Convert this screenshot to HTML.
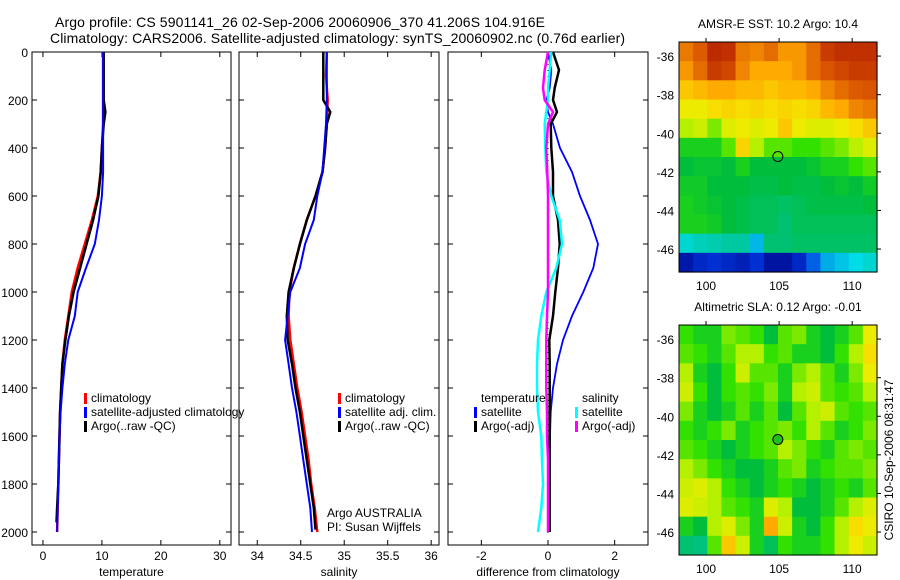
<!DOCTYPE html>
<html><head><meta charset="utf-8"><style>
html,body{margin:0;padding:0;background:#fff;}
svg{display:block;font-family:"Liberation Sans",sans-serif;}
text{fill:#000;}
</style></head><body>
<svg id="fig" width="900" height="580" viewBox="0 0 900 580" xmlns="http://www.w3.org/2000/svg">
<text x="55" y="27" font-size="14" textLength="490">Argo profile: CS 5901141_26 02-Sep-2006 20060906_370 41.206S 104.916E</text>
<text x="50" y="43" font-size="14" textLength="575">Climatology: CARS2006. Satellite-adjusted climatology: synTS_20060902.nc (0.76d earlier)</text>
<g id="g"></g>
</svg>
<script>
// ---------- data ----------
const depthTicks=[0,200,400,600,800,1000,1200,1400,1600,1800,2000];
const tempTicks=[0,10,20,30];
const salTicks=[34,34.5,35,35.5,36];
const salTickLabels=["34","34.5","35","35.5","36"];
const diffTicks=[-2,0,2];
const lonTicks=[100,105,110];
const latTicks=[-36,-38,-40,-42,-44,-46];

const tDepth=[0,100,200,300,400,500,600,700,800,900,1000,1100,1200,1300,1400,1500,1600,1700,1800,1900,2000];
const tClim=[10.2,10.2,10.2,10.2,10.0,9.8,9.3,8.3,7.1,5.9,4.9,4.3,3.7,3.3,3.1,2.9,2.8,2.7,2.6,2.5,2.4];
const tSat=[10.2,10.2,10.2,10.2,10.2,10.2,10.0,9.5,8.8,7.3,5.9,5.4,4.3,3.7,3.3,3.0,2.8,2.7,2.6,2.5,2.4];
const tArgoDepth=[0,100,200,250,300,400,500,600,700,800,900,1000,1100,1200,1300,1400,1500,1600,1700,1800,1900,1960];
const tArgo=[10.3,10.3,10.3,10.6,10.3,10.0,9.8,9.4,8.5,7.4,6.3,5.2,4.4,3.8,3.3,3.1,2.9,2.8,2.7,2.6,2.4,2.3];

const sDepth=[0,100,200,300,400,500,600,700,800,900,1000,1100,1200,1300,1400,1500,1600,1700,1800,1900,2000];
const sClim=[34.80,34.79,34.81,34.80,34.78,34.75,34.67,34.57,34.49,34.42,34.37,34.36,34.38,34.42,34.46,34.51,34.55,34.59,34.62,34.66,34.69];
const sSat=[34.80,34.80,34.80,34.79,34.77,34.75,34.69,34.65,34.55,34.49,34.38,34.35,34.32,34.36,34.40,34.45,34.49,34.53,34.57,34.61,34.63];
const sArgoDepth=[0,100,200,250,300,400,500,600,700,800,900,1000,1100,1200,1300,1400,1500,1600,1700,1800,1900,1990];
const sArgo=[34.76,34.76,34.76,34.84,34.80,34.78,34.75,34.67,34.57,34.49,34.42,34.36,34.34,34.35,34.40,34.44,34.49,34.53,34.57,34.61,34.65,34.67];

const dDepth=[0,75,150,200,250,300,400,500,600,700,800,900,1000,1100,1200,1300,1400,1500,1600,1700,1800,1900,2000];
const dTempSat=[0.0,0.1,0.05,-0.05,0.0,0.15,0.36,0.72,0.96,1.26,1.5,1.36,1.06,0.72,0.45,0.27,0.15,0.08,0.06,0.06,0.05,0.05,0.05];
const dTempArgo=[0.15,0.33,0.2,0.15,0.27,0.08,0.1,0.15,0.15,0.3,0.35,0.3,0.22,0.15,0.04,0.05,0.05,0.05,0.05,0.05,0.05,0.05,0.05];
const dSalSat=[0.1,0.05,0.0,0.0,-0.05,-0.1,-0.08,-0.05,0.1,0.35,0.42,0.25,-0.05,-0.2,-0.3,-0.33,-0.33,-0.3,-0.2,-0.18,-0.15,-0.2,-0.3];
const dSalArgo=[0.0,-0.1,-0.15,-0.1,0.15,0.0,-0.05,-0.02,0.0,0.0,0.0,0.0,0.0,-0.03,-0.05,-0.05,-0.05,-0.03,-0.03,0.0,0.0,0.0,0.0];

const sstGrid=[
[.80,.85,.93,.92,.80,.78,.82,.75,.75,.82,.90,.92,.92,.92],
[.75,.82,.90,.88,.78,.72,.72,.72,.75,.82,.86,.88,.90,.90],
[.68,.70,.72,.72,.70,.70,.68,.70,.70,.72,.78,.82,.85,.86],
[.62,.62,.65,.66,.65,.66,.65,.66,.65,.66,.70,.72,.78,.80],
[.55,.58,.52,.60,.62,.60,.62,.68,.62,.60,.60,.62,.65,.68],
[.45,.45,.45,.50,.66,.55,.50,.50,.48,.48,.50,.52,.56,.60],
[.42,.43,.43,.42,.45,.42,.42,.42,.42,.43,.45,.45,.48,.50],
[.44,.44,.42,.42,.42,.41,.41,.42,.41,.41,.42,.43,.42,.44],
[.45,.44,.43,.42,.41,.40,.40,.39,.40,.41,.41,.41,.41,.42],
[.45,.45,.44,.42,.41,.40,.40,.38,.40,.40,.40,.40,.40,.40],
[.30,.32,.33,.34,.34,.25,.38,.38,.39,.39,.39,.39,.39,.39],
[.06,.10,.12,.10,.08,.12,.05,.05,.10,.18,.24,.26,.28,.30]];
const slaGrid=[
[.48,.45,.45,.52,.50,.48,.42,.50,.52,.45,.42,.45,.50,.62],
[.50,.48,.45,.50,.55,.55,.48,.50,.45,.45,.42,.48,.55,.65],
[.55,.45,.42,.48,.58,.50,.50,.45,.52,.55,.50,.45,.52,.62],
[.58,.48,.42,.48,.50,.48,.52,.45,.55,.58,.50,.48,.50,.55],
[.52,.45,.42,.45,.50,.45,.50,.42,.50,.55,.58,.50,.48,.50],
[.48,.45,.48,.52,.45,.48,.50,.52,.48,.55,.50,.45,.48,.52],
[.50,.48,.45,.42,.45,.48,.50,.55,.52,.48,.45,.50,.52,.50],
[.55,.52,.48,.45,.42,.42,.45,.50,.52,.45,.48,.50,.50,.52],
[.58,.60,.55,.48,.45,.42,.45,.48,.45,.42,.45,.48,.45,.50],
[.60,.58,.55,.50,.48,.45,.60,.55,.42,.42,.45,.50,.55,.60],
[.45,.42,.55,.60,.52,.45,.72,.58,.45,.42,.48,.55,.65,.62],
[.38,.37,.50,.68,.58,.45,.40,.48,.45,.45,.48,.55,.62,.58]];
const argoLon=[104.916];
const argoLat=[-41.206];

// ---------- drawing ----------
const NS="http://www.w3.org/2000/svg";
const G=document.getElementById('g');
function mk(tag,attrs,parent){const e=document.createElementNS(NS,tag);for(const k in attrs)e.setAttribute(k,attrs[k]);(parent||G).appendChild(e);return e;}
const Y0=52,Y1=545;
function yD(d){return 52+d*0.24;}

function profilePanel(name,x0,x1,vmin,vmax,ticks,labels,xlabel){
  const sx=v=>x0+(v-vmin)/(vmax-vmin)*(x1-x0);
  const g=mk('g',{});
  
  
  const r=mk('rect',{x:x0,y:Y0,width:x1-x0,height:Y1-Y0,fill:'none',stroke:'#000','stroke-width':1},g);
  
  
  ticks.forEach((t,i)=>{
    const x=sx(t);
    mk('line',{x1:x,x2:x,y1:Y1,y2:Y1-5,stroke:'#000'},g);
    mk('line',{x1:x,x2:x,y1:Y0,y2:Y0+5,stroke:'#000'},g);
    const tx=mk('text',{x:x,y:Y1+15,'font-size':12,'text-anchor':'middle'},g);
    tx.textContent=labels[i];
    
    
  });
  depthTicks.forEach(d=>{
    const y=yD(d);
    mk('line',{x1:x0,x2:x0+5,y1:y,y2:y,stroke:'#000'},g);
    mk('line',{x1:x1,x2:x1-5,y1:y,y2:y,stroke:'#000'},g);
  });
  const xl=mk('text',{x:(x0+x1)/2,y:576,'font-size':12,'text-anchor':'middle'},g);
  xl.textContent=xlabel;
  
  
  return {g,sx};
}
function series(p,name,depths,vals,color,w){
  const pts=depths.map((d,i)=>p.sx(vals[i]).toFixed(1)+','+yD(d).toFixed(1)).join(' ');
  const l=mk('polyline',{points:pts,fill:'none',stroke:color,'stroke-width':w},p.g);
  
  
}
function legend(g,x,y,color,label,nm){
  if(color){const m=mk('rect',{x:x-7,y:y-9,width:3,height:11,fill:color},g);
  
  }
  const t=mk('text',{x:x,y:y,'font-size':12},g);
  t.textContent=label;
  
  
}

// Panel 1 temperature
const p1=profilePanel('temperature',32,231,-1.86,31.9,tempTicks,tempTicks.map(String),'temperature');
depthTicks.forEach(d=>{
  const t=mk('text',{x:28,y:yD(d)+5,'font-size':12,'text-anchor':'end'});
  t.textContent=String(d);
  
  
});
series(p1,'temp-climatology-line',tDepth,tClim,'#f00',2.5);
series(p1,'temp-argo-line',tArgoDepth,tArgo,'#000',2.5);
series(p1,'temp-satellite-line',tDepth,tSat,'#00f',2);
legend(p1.g,91,402,'#f00','climatology','legend-climatology');
legend(p1.g,91,416,'#00f','satellite-adjusted climatology','legend-satellite-adjusted');
legend(p1.g,91,430,'#000','Argo(..raw -QC)','legend-argo-raw');

// Panel 2 salinity
const p2=profilePanel('salinity',239,439,33.79,36.09,salTicks,salTickLabels,'salinity');
series(p2,'sal-climatology-line',sDepth,sClim,'#f00',2.5);
series(p2,'sal-argo-line',sArgoDepth,sArgo,'#000',2.5);
series(p2,'sal-satellite-line',sDepth,sSat,'#00f',2);
legend(p2.g,345,402,'#f00','climatology','legend-sal-climatology');
legend(p2.g,345,416,'#00f','satellite adj. clim.','legend-sal-satellite');
legend(p2.g,345,430,'#000','Argo(..raw -QC)','legend-sal-argo');
legend(p2.g,327,517,null,'Argo AUSTRALIA','argo-australia-label');
legend(p2.g,327,531,null,'PI: Susan Wijffels','pi-label');

// Panel 3 difference
const p3=profilePanel('difference',448,648,-3,3,diffTicks,diffTicks.map(String),'difference from climatology');
for(let d=0;d<=2000;d+=25){mk('rect',{x:p3.sx(0)-0.5,y:yD(d),width:1,height:1,fill:'#000'},p3.g);}
series(p3,'diff-temp-satellite-line',dDepth,dTempSat,'#00f',1.8);
series(p3,'diff-temp-argo-line',dDepth,dTempArgo,'#000',2.5);
series(p3,'diff-sal-satellite-line',dDepth,dSalSat,'#0ff',2.5);
series(p3,'diff-sal-argo-line',dDepth,dSalArgo,'#f0f',2.5);
legend(p3.g,481,402,null,'temperature','legend-temperature-heading');
legend(p3.g,481,416,'#00f','satellite','legend-temp-satellite');
legend(p3.g,481,430,'#000','Argo(-adj)','legend-temp-argo');
legend(p3.g,582,402,null,'salinity','legend-salinity-heading');
legend(p3.g,582,416,'#0ff','satellite','legend-sal-satellite-diff');
legend(p3.g,582,430,'#f0f','Argo(-adj)','legend-sal-argo-diff');

// Maps - custom palette resembling reference
const cmapStops=[0,0.15,0.28,0.36,0.42,0.48,0.55,0.63,0.72,0.85,1];
const cmapCols=[[0,0,128],[0,60,230],[0,220,230],[0,195,140],[0,190,60],[50,225,0],[180,240,0],[245,235,0],[255,170,0],[220,90,0],[160,0,0]];
function cmap(v){
  v=Math.max(0,Math.min(1,v));
  let i=0;while(i<cmapStops.length-2&&v>cmapStops[i+1])i++;
  const f=(v-cmapStops[i])/(cmapStops[i+1]-cmapStops[i]);
  const a=cmapCols[i],b=cmapCols[i+1];
  return 'rgb('+a.map((c,k)=>Math.round(c+(b[k]-c)*f)).join(',')+')';
}
function mapPanel(name,x0,y0,grid,title,filled){
  const x1=877,y1=y0+230;
  const lonMin=98.15,lonMax=111.7,latMax=-35.27,latMin=-47.19;
  const sx=l=>x0+(l-lonMin)/(lonMax-lonMin)*(x1-x0);
  const sy=l=>y0+(latMax-l)/(latMax-latMin)*(y1-y0);
  const g=mk('g',{});
  
  
  const rows=grid.length,cols=grid[0].length,cw=(x1-x0)/cols,ch=(y1-y0)/rows;
  grid.forEach((row,i)=>row.forEach((v,j)=>{
    const c=mk('rect',{x:x0+j*cw,y:y0+i*ch,width:cw+0.6,height:ch+0.6,fill:cmap(v)},g);
    
    
  }));
  mk('rect',{x:x0,y:y0,width:x1-x0,height:y1-y0,fill:'none',stroke:'#000'},g);
  lonTicks.forEach(l=>{
    const x=sx(l);
    mk('line',{x1:x,x2:x,y1:y0,y2:y0-4,stroke:'#000'},g);
    const t=mk('text',{x:x,y:y1+18,'font-size':12,'text-anchor':'middle'},g);
    t.textContent=String(l);
    
    
  });
  latTicks.forEach(l=>{
    const y=sy(l);
    mk('line',{x1:x1,x2:x1+4,y1:y,y2:y,stroke:'#000'},g);
    const t=mk('text',{x:x0-5,y:y+5,'font-size':12,'text-anchor':'end'},g);
    t.textContent=String(l);
    
    
  });
  const tt=mk('text',{x:(x0+x1)/2,y:y0-14,'font-size':12,'text-anchor':'middle'},g);
  tt.textContent=title;
  
  
  const m=mk('circle',{cx:sx(argoLon[0]),cy:sy(argoLat[0]),r:5,fill:filled?'#20c020':'none',stroke:'#000','stroke-width':1},g);
  
  
}
mapPanel('sst',679,42,sstGrid,'AMSR-E SST: 10.2 Argo: 10.4',false);
mapPanel('sla',679,325,slaGrid,'Altimetric SLA: 0.12 Argo: -0.01',true);
const ts=mk('text',{x:0,y:0,'font-size':12,'text-anchor':'middle',transform:'translate(893,460) rotate(-90)'});
ts.textContent='CSIRO 10-Sep-2006 08:31:47';


</script>
</body></html>
